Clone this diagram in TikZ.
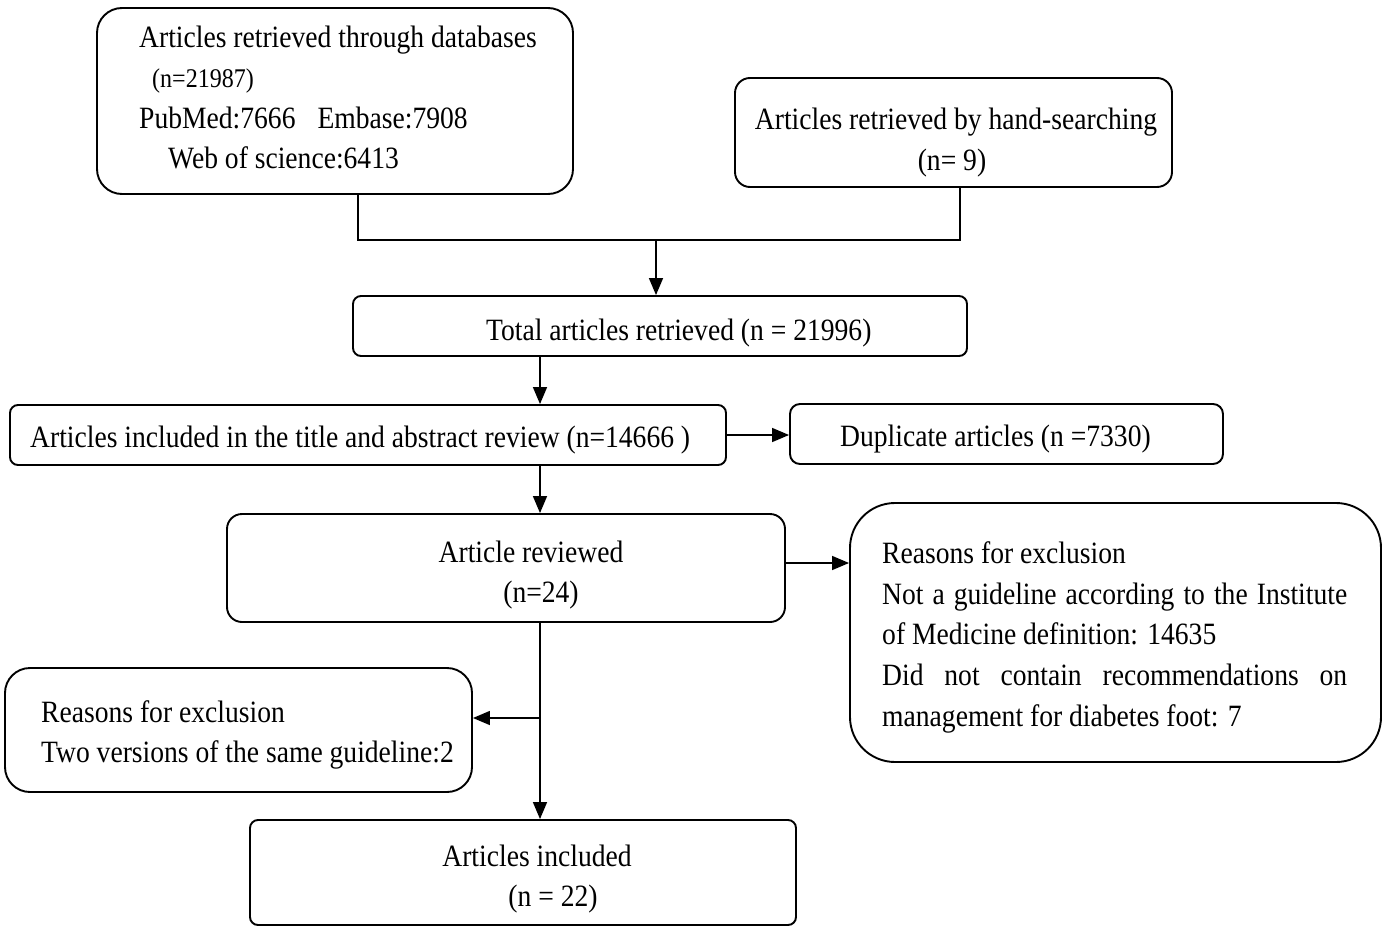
\documentclass[tikz,border=0pt]{standalone}
\usepackage{fontspec}
\setmainfont{Liberation Serif}[FakeStretch=0.89]
\usetikzlibrary{arrows.meta,calc}
\tikzset{
  box/.style={draw=black, line width=1.9pt, inner sep=0pt, fill=none},
  txt/.style={inner sep=0pt, font=\fontsize{31}{40.5}\selectfont},
  conn/.style={line width=1.5pt, draw=black},
  arr/.style={conn, -{Triangle[length=17pt,width=14pt]}},
}
\newcommand{\boxat}[6]{% name, x1, y1, x2, y2, radius
  \node[box, rounded corners=#6, minimum width={(#4-#2)*1pt}, minimum height={(#5-#3)*1pt}] (#1) at ({(#2+#4)/2},{(#3+#5)/2}) {};}
\begin{document}
\begin{tikzpicture}[x=1pt,y=-1pt]
\useasboundingbox (0,0) rectangle (1389,926);
% boxes
\boxat{A}{97}{8}{573}{194}{25pt}
\boxat{B}{735}{78}{1172}{187}{15pt}
\boxat{C}{353}{296}{967}{356}{8pt}
\boxat{D}{10}{405}{726}{465}{8pt}
\boxat{E}{790}{404}{1223}{464}{10pt}
\boxat{F}{227}{514}{785}{622}{15pt}
\boxat{G}{850}{503}{1381}{762}{45pt}
\boxat{I}{5}{668}{472}{792}{25pt}
\boxat{H}{250}{820}{796}{925}{8pt}
% texts
\node[txt, anchor=base west] (tA1) at (139,47) {Articles retrieved through databases};
\node[txt, anchor=base west, font=\fontsize{27}{30}\selectfont] (tA2) at (152,87) {(n=21987)};
\node[txt, anchor=base west] (tA3) at (139,128) {PubMed:7666\hspace{22pt}Embase:7908};
\node[txt, anchor=base west] (tA4) at (168,168) {Web of science:6413};
\node[txt, anchor=base] (tB1) at (956,129) {Articles retrieved by hand-searching};
\node[txt, anchor=base] (tB2) at (952,170) {(n= 9)};
\node[txt, anchor=base west] (tC) at (486,340) {Total articles retrieved (n = 21996)};
\node[txt, anchor=base west] (tD) at (30,447) {Articles included in the title and abstract review (n=14666 )};
\node[txt, anchor=base west] (tE) at (840,446) {Duplicate articles (n =7330)};
\node[txt, anchor=base] (tF1) at (531,562) {Article reviewed};
\node[txt, anchor=base] (tF2) at (541,602) {(n=24)};
\node[txt, anchor=base west] (tG1) at (882,563) {Reasons for exclusion};
\node[txt, anchor=base west] (tG2) at (882,604) {\makebox[465pt][s]{Not a guideline according to the Institute}};
\node[txt, anchor=base west] (tG3) at (882,644) {of Medicine definition: 14635};
\node[txt, anchor=base west] (tG4) at (882,685) {\makebox[465pt][s]{Did not contain recommendations on}};
\node[txt, anchor=base west] (tG5) at (882,726) {management for diabetes foot: 7};
\node[txt, anchor=base west] (tI1) at (41,722) {Reasons for exclusion};
\node[txt, anchor=base west] (tI2) at (41,762) {Two versions of the same guideline:2};
\node[txt, anchor=base] (tH1) at (537,866) {Articles included};
\node[txt, anchor=base] (tH2) at (553,906) {(n = 22)};
% connector helpers
\coordinate (jL) at (358,240);
\coordinate (jR) at (960,240);
\coordinate (jM) at (656,240);
\coordinate (xc) at (540,0);
\coordinate (br) at (540,718);
% connectors
\draw[conn] (A.south -| jL) -- (jL) -- (jR) -- (B.south -| jR);
\draw[arr] (jM) -- (C.north -| jM);
\draw[arr] (C.south -| xc) -- (D.north -| xc);
\draw[arr] (D.east) -- (D.east -| E.west);
\draw[arr] (D.south -| xc) -- (F.north -| xc);
\draw[arr] ([yshift=5pt]F.east) -- ([yshift=5pt]F.east -| G.west);
\draw[conn] (F.south -| xc) -- (br);
\draw[arr] (br) -- (H.north -| xc);
\draw[arr] (br) -- (br -| I.east);
\end{tikzpicture}
\end{document}
